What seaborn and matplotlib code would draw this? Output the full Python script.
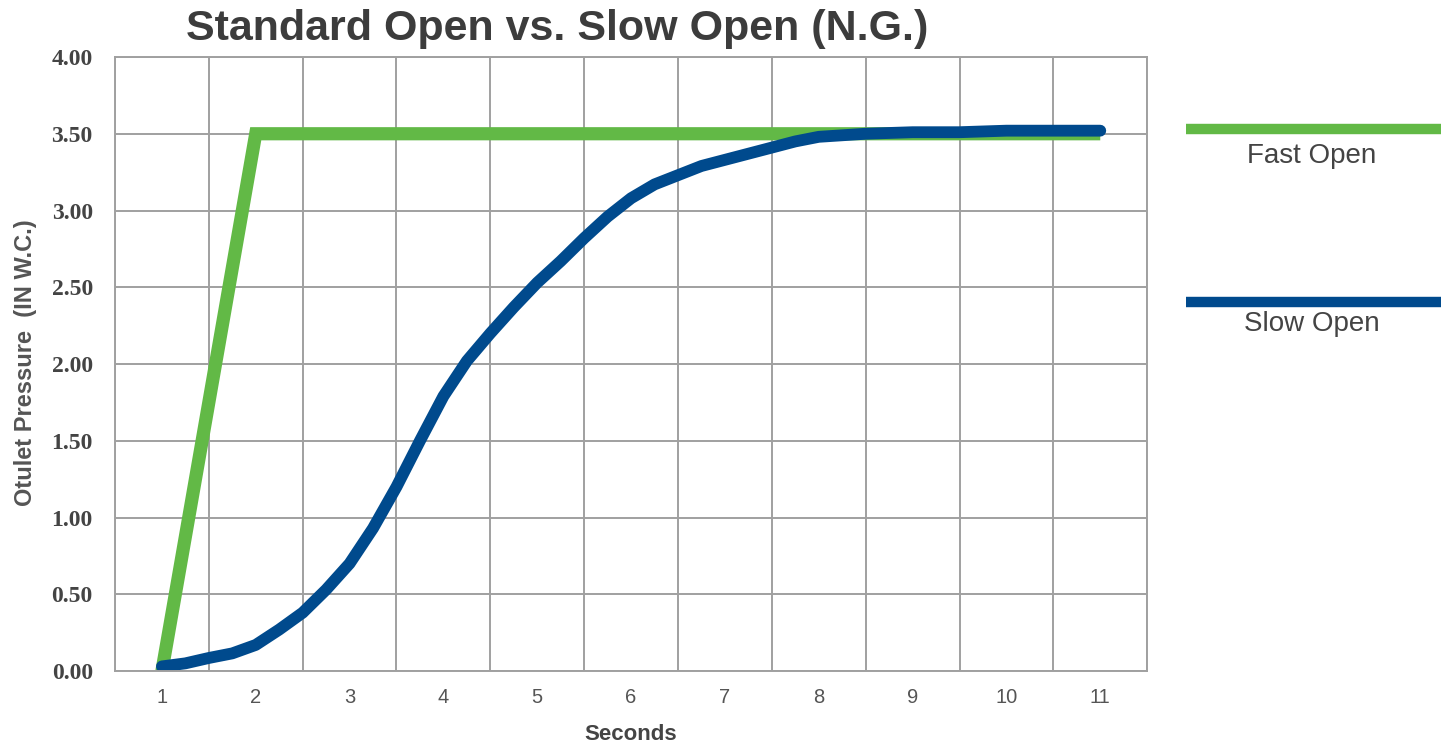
import numpy as np
import pandas as pd
import seaborn as sns
import matplotlib.pyplot as plt
from matplotlib.lines import Line2D
from matplotlib.ticker import FixedLocator, FormatStrFormatter

# data
fast_x = [1, 2, 3, 4, 5, 6, 7, 8, 9, 10, 11]
fast_y = [0.0, 3.5, 3.5, 3.5, 3.5, 3.5, 3.5, 3.5, 3.5, 3.5, 3.5]

slow_x = [1, 1.25, 1.5, 1.75, 2, 2.25, 2.5, 2.75, 3, 3.25, 3.5, 3.75, 4, 4.25, 4.5, 4.75,
          5, 5.25, 5.5, 5.75, 6, 6.25, 6.5, 6.75, 7, 7.25, 7.5, 7.75, 8, 8.5, 9, 9.5,
          10, 10.5, 11]
slow_y = [0.03, 0.05, 0.085, 0.115, 0.17, 0.27, 0.38, 0.53, 0.70, 0.93, 1.20, 1.50, 1.79,
          2.02, 2.20, 2.37, 2.53, 2.67, 2.82, 2.96, 3.08, 3.17, 3.23, 3.29, 3.33, 3.37,
          3.41, 3.45, 3.48, 3.50, 3.51, 3.51, 3.52, 3.52, 3.52]

x_labels = [str(i) for i in range(1, 12)]
series_names = ["Fast Open", "Slow Open"]
colors = ["#62b946", "#004a8d"]

fast = pd.DataFrame({"sec": fast_x, "psi": fast_y})
slow = pd.DataFrame({"sec": slow_x, "psi": slow_y})

sns.set_style("white")
plt.rcParams['font.family'] = ['Liberation Sans', 'DejaVu Sans']

fig = plt.figure(figsize=(14.41, 7.46), dpi=100)
ax = fig.add_axes([0.0798, 0.1005, 0.7163, 0.8231])

sns.lineplot(data=fast, x="sec", y="psi", color=colors[0], lw=9.5, ax=ax,
             solid_joinstyle="miter", solid_capstyle="butt")
sns.lineplot(data=slow, x="sec", y="psi", color=colors[1], lw=8.5, ax=ax,
             solid_joinstyle="round", solid_capstyle="round")

ax.set_xlim(0.5, 11.5)
ax.set_ylim(0, 4)

# grid at category boundaries, labels at the centres
ax.xaxis.set_major_locator(FixedLocator(np.arange(0.5, 12, 1)))
ax.xaxis.set_minor_locator(FixedLocator(np.arange(1, 12)))
ax.set_xticklabels([], minor=False)
ax.set_xticklabels(x_labels, minor=True)
ax.tick_params(axis="x", which="major", length=6, width=1.4, color="#a0a0a0", direction="out")
ax.tick_params(axis="x", which="minor", length=0, pad=12, labelsize=14.5, labelcolor="#555555")

ax.set_yticks(np.arange(0, 4.01, 0.5))
ax.yaxis.set_major_formatter(FormatStrFormatter("%.2f"))
ax.tick_params(axis="y", length=7, width=1.4, color="#a0a0a0", direction="out", pad=9)
for t in ax.get_yticklabels():
    t.set_fontfamily("Liberation Serif")
    t.set_fontweight("bold")
    t.set_fontsize(17)
    t.set_color("#444444")

ax.grid(True, which="major", color="#a0a0a0", lw=1.4)
for s in ax.spines.values():
    s.set_color("#a0a0a0")
    s.set_linewidth(1.4)

ax.set_xlabel("")
ax.set_ylabel("")

fig.text(0.387, 0.961, "Standard Open vs. Slow Open (N.G.)", ha="center", va="center",
         fontsize=31, fontweight="bold", color="#3c3c3c")
fig.text(631 / 1441, 1 - 735 / 746, "Seconds", ha="center", va="center",
         fontsize=16, fontweight="bold", color="#444444")
fig.text(26 / 1441, 1 - 363 / 746, "Otulet Pressure  (IN W.C.)", ha="center", va="center",
         rotation=90, fontsize=17, fontweight="bold", color="#555555")

# legend drawn at the right like the original
for name, col, ly, ty in zip(series_names, colors, [129, 302], [156, 324]):
    fig.add_artist(Line2D([1186 / 1441, 1.0], [1 - ly / 746] * 2, color=col, lw=7.5,
                          solid_capstyle="butt", transform=fig.transFigure))
    fig.text(1312 / 1441, 1 - ty / 746, name, ha="center", va="center",
             fontsize=20, color="#444444")

fig.savefig("out.png", dpi=100)
